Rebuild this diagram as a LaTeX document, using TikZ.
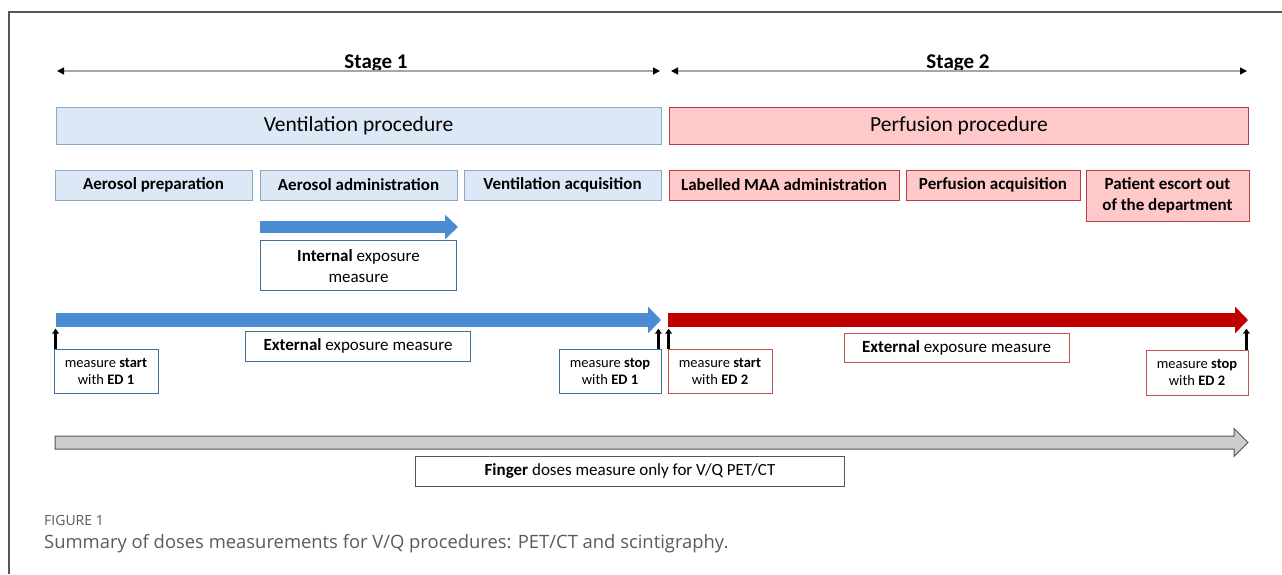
\documentclass[tikz,border=0pt]{standalone}
\usepackage{fontspec}
\setmainfont{Carlito}
\newfontfamily\capfont{Open Sans}
\definecolor{ventfill}{HTML}{DCE8F5}
\definecolor{ventline}{HTML}{8EA9C8}
\definecolor{perffill}{HTML}{FFC9C9}
\definecolor{perfline}{HTML}{B0404A}
\definecolor{ventarrow}{HTML}{4A8BD3}
\definecolor{perfarrow}{HTML}{C00000}
\definecolor{noteblue}{HTML}{41719C}
\definecolor{notered}{HTML}{C0504D}
\definecolor{framegray}{HTML}{555555}
\definecolor{captext}{HTML}{5A5A5A}
\usetikzlibrary{arrows.meta, calc, positioning}

\begin{document}
\begin{tikzpicture}[x=1pt, y=-1pt,
  stagelbl/.style={font=\fontsize{21}{25}\selectfont\bfseries, anchor=base},
  stageline/.style={draw=gray!70, line width=1.3pt,
              {Triangle[length=7pt,width=7pt,color=black]}-{Triangle[length=7pt,width=7pt,color=black]}},
  proc/.style={draw, line width=0.8pt, minimum height=37pt, inner sep=0pt,
              font=\fontsize{21.5}{26}\selectfont},
  stepbox/.style={draw, line width=0.8pt, minimum height=30pt, inner sep=0pt,
              align=center, font=\fontsize{17}{21}\selectfont\bfseries},
  note/.style={draw, fill=white, line width=0.8pt, inner sep=0pt, align=center},
  small/.style={note, minimum height=44pt, font=\fontsize{14.5}{17}\selectfont},
  fat/.style={line width=14pt, -{Triangle[length=13pt,width=26pt]}},
  tick/.style={line width=2.6pt, -{Triangle[length=5pt,width=6.5pt]}},
]
\useasboundingbox (0,0) rectangle (1282,574);
\draw[framegray, line width=1.2pt] (9,574) -- (9,12) -- (1282,12);

\node[stagelbl] (s1) at (376,68) {Stage 1};
\node[stagelbl] (s2) at (958,68) {Stage 2};
\coordinate (s1a) at (57,71);
\coordinate (s1b) at (660,71);
\coordinate (s2a) at (671,71);
\coordinate (s2b) at (1247,71);
\draw[stageline] (s1a) -- (s1b);
\draw[stageline] (s2a) -- (s2b);

\node[proc, draw=ventline, fill=ventfill, minimum width=605pt] (vent) at (358.5,125.5) {Ventilation procedure};
\node[proc, draw=perfline, fill=perffill, minimum width=579pt] (perf) at (959,125.5) {Perfusion procedure};

\node[stepbox, draw=ventline, fill=ventfill, minimum width=197pt] (prep) at (153.5,185) {Aerosol preparation};
\node[stepbox, draw=ventline, fill=ventfill, minimum width=197pt] (admin) at (358.5,185) {Aerosol administration};
\node[stepbox, draw=ventline, fill=ventfill, minimum width=197pt] (vacq) at (562.5,185) {Ventilation acquisition};
\node[stepbox, draw=perfline, fill=perffill, minimum width=230pt] (maa) at (784,185) {Labelled MAA administration};
\node[stepbox, draw=perfline, fill=perffill, minimum width=174pt] (pacq) at (993,185) {Perfusion acquisition};
\node[stepbox, draw=perfline, fill=perffill, minimum width=163pt, minimum height=51pt] (escort) at (1167.5,195.5) {Patient escort out\\of the department};

\coordinate (int0) at (260,227);
\coordinate (int1) at (458,227);
\draw[fat, ventarrow, line width=12pt, -{Triangle[length=13pt,width=24pt]}] (int0) -- (int1);
\node[note, draw=noteblue, minimum width=196pt, minimum height=50pt, font=\fontsize{17}{21}\selectfont] (intnote) at (358.5,265.7) {\textbf{Internal} exposure\\measure};

\coordinate (ev0) at (56,320);
\coordinate (ev1) at (661,320);
\coordinate (ep0) at (668,320);
\coordinate (ep1) at (1248,320);
\draw[fat, ventarrow] (ev0) -- (ev1);
\draw[fat, perfarrow] (ep0) -- (ep1);

\node[note, draw=noteblue, minimum width=225pt, minimum height=30pt, font=\fontsize{17}{21}\selectfont] (extvnote) at (358,346.3) {\textbf{External} exposure measure};
\node[note, draw=notered, minimum width=225pt, minimum height=29pt, font=\fontsize{17}{21}\selectfont] (extpnote) at (956.5,348) {\textbf{External} exposure measure};

\node[small, draw=noteblue, minimum width=104pt] (start1) at (106,371) {measure \textbf{start}\\with \textbf{ED 1}};
\node[small, draw=noteblue, minimum width=102pt] (stop1) at (610,371) {measure \textbf{stop}\\with \textbf{ED 1}};
\node[small, draw=notered, minimum width=104pt] (start2) at (720,371) {measure \textbf{start}\\with \textbf{ED 2}};
\node[small, draw=notered, minimum width=102pt, minimum height=45pt] (stop2) at (1197,372.5) {measure \textbf{stop}\\with \textbf{ED 2}};

\draw[tick] ([xshift=2pt]start1.north west) -- ++(0,-20);
\draw[tick] ([xshift=-3pt]stop1.north east) -- ++(0,-20);
\draw[tick] ([xshift=1pt]start2.north west) -- ++(0,-20);
\draw[tick] ([xshift=-2pt]stop2.north east) -- ++(0,-21);

\coordinate (fin0) at (55,442.5);
\coordinate (fin1) at (1248,442.5);
\draw[draw=framegray, fill=gray!40, line width=1pt]
  ($(fin0)+(0,-6.5)$) -- ($(fin1)+(-14,-6.5)$) -- ($(fin1)+(-14,-14)$) -- (fin1)
  -- ($(fin1)+(-14,14)$) -- ($(fin1)+(-14,6.5)$) -- ($(fin0)+(0,6.5)$) -- cycle;
\node[note, draw=framegray, minimum width=429pt, minimum height=30.5pt, font=\fontsize{17}{21}\selectfont] (finnote) at (630,471.3) {\textbf{Finger} doses measure only for V/Q PET/CT};

\node[anchor=base west, inner sep=0pt, font=\capfont\fontsize{14}{17}\selectfont, text=captext] (figlbl) at (44,525) {FIGURE 1};
\node[anchor=base west, inner sep=0pt, font=\capfont\fontsize{18.4}{22}\selectfont, text=captext] (caption) at (44,548) {Summary of doses measurements for V/Q procedures: PET/CT and scintigraphy.};
\end{tikzpicture}
\end{document}
